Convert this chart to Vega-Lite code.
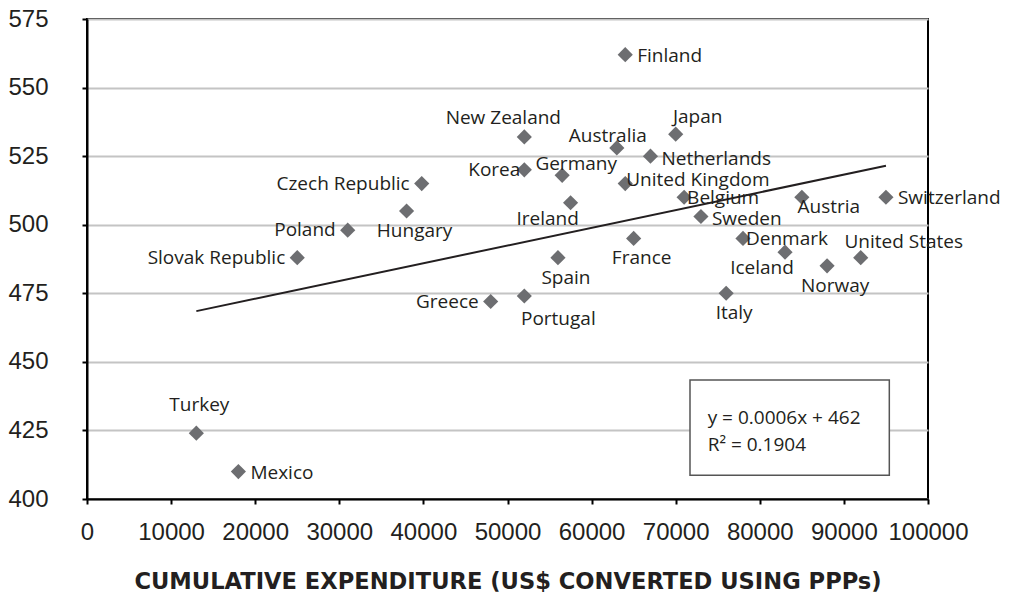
{
  "$schema": "https://vega.github.io/schema/vega-lite/v6.json",
  "width": 841,
  "height": 480,
  "autosize": {"type": "none"},
  "padding": {"left": 87, "top": 19, "right": 86, "bottom": 98},
  "background": "white",
  "config": {
    "view": {"stroke": "#000", "strokeWidth": 2},
    "text": {"font": "Open Sans", "fontSize": 19, "color": "#231f20", "baseline": "middle"}
  },
  "datasets": {
    "countries": [
      {"country": "Finland", "expenditure": 64000, "score": 562},
      {"country": "New Zealand", "expenditure": 52000, "score": 532},
      {"country": "Japan", "expenditure": 70000, "score": 533},
      {"country": "Australia", "expenditure": 63000, "score": 528},
      {"country": "Netherlands", "expenditure": 67000, "score": 525},
      {"country": "Korea", "expenditure": 52000, "score": 520},
      {"country": "Germany", "expenditure": 56500, "score": 518},
      {"country": "Czech Republic", "expenditure": 39800, "score": 515},
      {"country": "United Kingdom", "expenditure": 64000, "score": 515},
      {"country": "Belgium", "expenditure": 71000, "score": 510},
      {"country": "Austria", "expenditure": 85000, "score": 510},
      {"country": "Switzerland", "expenditure": 95000, "score": 510},
      {"country": "Ireland", "expenditure": 57500, "score": 508},
      {"country": "Hungary", "expenditure": 38000, "score": 505},
      {"country": "Sweden", "expenditure": 73000, "score": 503},
      {"country": "Poland", "expenditure": 31000, "score": 498},
      {"country": "France", "expenditure": 65000, "score": 495},
      {"country": "Denmark", "expenditure": 78000, "score": 495},
      {"country": "Iceland", "expenditure": 83000, "score": 490},
      {"country": "Slovak Republic", "expenditure": 25000, "score": 488},
      {"country": "Spain", "expenditure": 56000, "score": 488},
      {"country": "United States", "expenditure": 92000, "score": 488},
      {"country": "Norway", "expenditure": 88000, "score": 485},
      {"country": "Italy", "expenditure": 76000, "score": 475},
      {"country": "Portugal", "expenditure": 52000, "score": 474},
      {"country": "Greece", "expenditure": 48000, "score": 472},
      {"country": "Turkey", "expenditure": 13000, "score": 424},
      {"country": "Mexico", "expenditure": 18000, "score": 410}
    ],
    "trend": [
      {"expenditure": 13000, "score": 468.5},
      {"expenditure": 95000, "score": 521.5}
    ],
    "box": [
      {"x1": 71700, "x2": 95400, "y1": 408.7, "y2": 443.4}
    ],
    "equation": [
      {"label": "y = 0.0006x + 462", "expenditure": 73800, "score": 429.5},
      {"label": "R² = 0.1904", "expenditure": 73800, "score": 419.6}
    ]
  },
  "layer": [
    {
      "data": {"name": "trend"},
      "mark": {"type": "line", "color": "#231f20", "strokeWidth": 2},
      "encoding": {
        "x": {
          "field": "expenditure", "type": "quantitative",
          "scale": {"domain": [0, 100000], "nice": false},
          "axis": {
            "values": [0, 10000, 20000, 30000, 40000, 50000, 60000, 70000, 80000, 90000, 100000],
            "format": "d",
            "grid": false,
            "domainColor": "#000", "domainWidth": 2,
            "tickColor": "#000", "tickWidth": 2, "tickSize": 5,
            "labelFont": "Liberation Sans", "labelFontSize": 24, "labelColor": "#231f20",
            "labelPadding": 16, "labelFlush": false,
            "title": "CUMULATIVE EXPENDITURE (US$ CONVERTED USING PPPs)",
            "titleFont": "DejaVu Sans", "titleFontWeight": "bold", "titleFontSize": 22.6, "titleColor": "#231f20",
            "titlePadding": 26
          }
        },
        "y": {
          "field": "score", "type": "quantitative",
          "scale": {"domain": [400, 575], "nice": false, "zero": false},
          "axis": {
            "values": [400, 425, 450, 475, 500, 525, 550, 575],
            "grid": true, "gridColor": "#c4c4c4", "gridWidth": 2,
            "domainColor": "#000", "domainWidth": 2,
            "tickColor": "#000", "tickWidth": 2, "tickSize": 5,
            "labelFont": "Liberation Sans", "labelFontSize": 24, "labelColor": "#231f20",
            "labelPadding": 34,
            "title": null
          }
        }
      }
    },
    {
      "data": {"name": "box"},
      "mark": {"type": "rect", "fill": "white", "stroke": "#555", "strokeWidth": 1.5},
      "encoding": {
        "x": {"field": "x1", "type": "quantitative"},
        "x2": {"field": "x2"},
        "y": {"field": "y1", "type": "quantitative"},
        "y2": {"field": "y2"}
      }
    },
    {
      "data": {"name": "equation"},
      "mark": {"type": "text", "align": "left", "fontSize": 19},
      "encoding": {
        "x": {"field": "expenditure", "type": "quantitative"},
        "y": {"field": "score", "type": "quantitative"},
        "text": {"field": "label"}
      }
    },
    {
      "data": {"name": "countries"},
      "encoding": {
        "x": {"field": "expenditure", "type": "quantitative"},
        "y": {"field": "score", "type": "quantitative"},
        "text": {"field": "country"}
      },
      "layer": [
        {"mark": {"type": "point", "shape": "diamond", "filled": true, "color": "#6d6e71", "size": 230, "opacity": 1}},
        {"transform": [{"filter": {"field": "country", "oneOf": ["Finland", "Switzerland", "Mexico"]}}],
         "mark": {"type": "text", "align": "left", "dx": 12, "dy": 1}},
        {"transform": [{"filter": {"field": "country", "oneOf": ["Netherlands", "Sweden"]}}],
         "mark": {"type": "text", "align": "left", "dx": 11, "dy": 3}},
        {"transform": [{"filter": {"field": "country", "oneOf": ["Belgium", "Denmark"]}}],
         "mark": {"type": "text", "align": "left", "dx": 3, "dy": 1}},
        {"transform": [{"filter": {"field": "country", "oneOf": ["United Kingdom"]}}],
         "mark": {"type": "text", "align": "left", "dx": 1, "dy": -4}},
        {"transform": [{"filter": {"field": "country", "oneOf": ["Czech Republic", "Slovak Republic", "Greece", "Poland"]}}],
         "mark": {"type": "text", "align": "right", "dx": -12, "dy": 0}},
        {"transform": [{"filter": {"field": "country", "oneOf": ["Korea"]}}],
         "mark": {"type": "text", "align": "right", "dx": -4, "dy": 0}},
        {"transform": [{"filter": {"field": "country", "oneOf": ["New Zealand"]}}],
         "mark": {"type": "text", "align": "center", "dx": -21, "dy": -19}},
        {"transform": [{"filter": {"field": "country", "oneOf": ["Japan"]}}],
         "mark": {"type": "text", "align": "center", "dx": 22, "dy": -17}},
        {"transform": [{"filter": {"field": "country", "oneOf": ["Australia"]}}],
         "mark": {"type": "text", "align": "center", "dx": -9, "dy": -12}},
        {"transform": [{"filter": {"field": "country", "oneOf": ["Germany"]}}],
         "mark": {"type": "text", "align": "center", "dx": 14, "dy": -11}},
        {"transform": [{"filter": {"field": "country", "oneOf": ["Turkey"]}}],
         "mark": {"type": "text", "align": "center", "dx": 3, "dy": -28}},
        {"transform": [{"filter": {"field": "country", "oneOf": ["United States"]}}],
         "mark": {"type": "text", "align": "center", "dx": 43, "dy": -16}},
        {"transform": [{"filter": {"field": "country", "oneOf": ["France", "Spain", "Norway", "Italy", "Hungary"]}}],
         "mark": {"type": "text", "align": "center", "dx": 8, "dy": 20}},
        {"transform": [{"filter": {"field": "country", "oneOf": ["Portugal"]}}],
         "mark": {"type": "text", "align": "center", "dx": 34, "dy": 23}},
        {"transform": [{"filter": {"field": "country", "oneOf": ["Ireland", "Iceland"]}}],
         "mark": {"type": "text", "align": "center", "dx": -23, "dy": 16}},
        {"transform": [{"filter": {"field": "country", "oneOf": ["Austria"]}}],
         "mark": {"type": "text", "align": "center", "dx": 27, "dy": 10}}
      ]
    }
  ]
}
